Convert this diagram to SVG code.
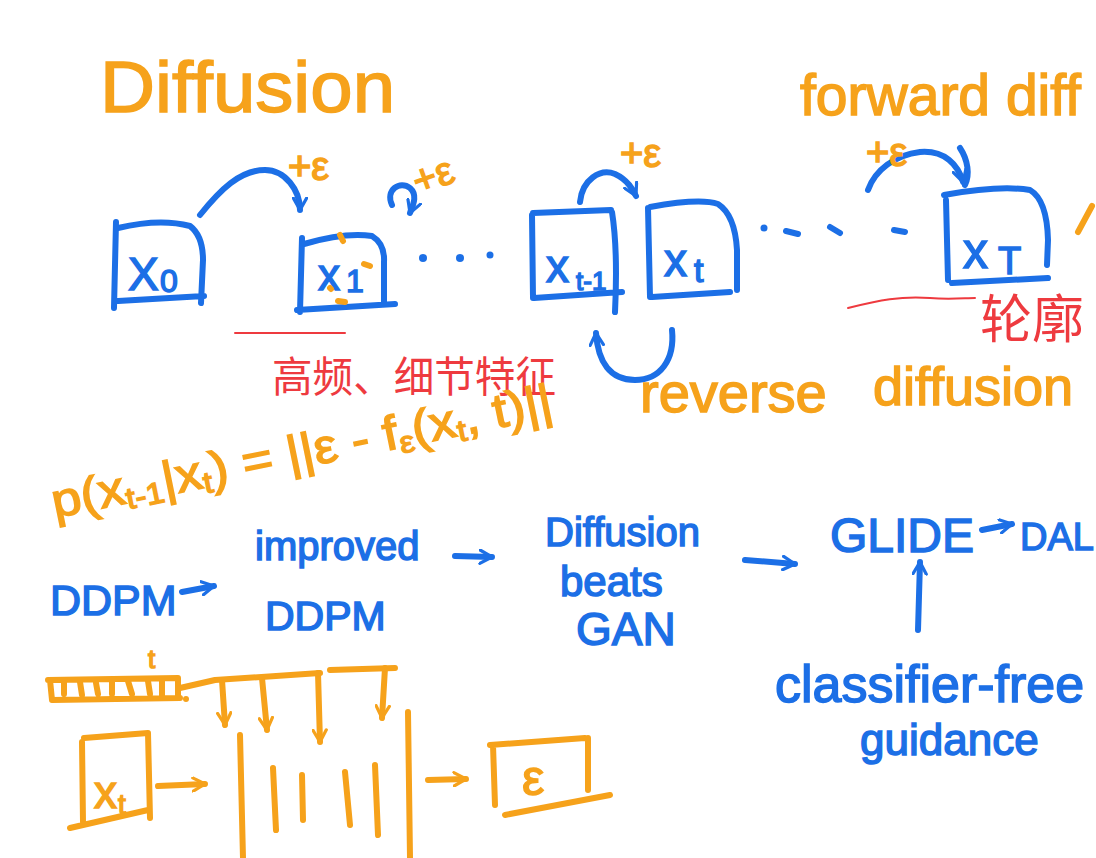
<svg xmlns="http://www.w3.org/2000/svg" width="1096" height="858" viewBox="0 0 1096 858">
<defs>
<style>
.o{fill:none;stroke:#F6A21B;stroke-width:6;stroke-linecap:round;stroke-linejoin:round}
.b{fill:none;stroke:#1C6FE6;stroke-width:6;stroke-linecap:round;stroke-linejoin:round}
.r{fill:none;stroke:#EE3A3F;stroke-width:2;stroke-linecap:round}
.to{fill:#F6A21B;stroke:#F6A21B;stroke-width:1.5;font-family:"Liberation Sans","DejaVu Sans",sans-serif}
.tb{fill:#1C6FE6;stroke:#1C6FE6;stroke-width:1.5;font-family:"Liberation Sans","DejaVu Sans",sans-serif}
.tr{fill:#EE3A3F;font-family:"Liberation Sans","Noto Sans CJK SC",sans-serif}
</style>
<marker id="hb" viewBox="0 0 12 12" refX="10" refY="6" markerWidth="16" markerHeight="16" markerUnits="userSpaceOnUse" orient="auto">
<path d="M1,1 L10,6 L1,11" fill="none" stroke="#1C6FE6" stroke-width="2.4" stroke-linecap="round" stroke-linejoin="round"/>
</marker>
<marker id="ho" viewBox="0 0 12 12" refX="10" refY="6" markerWidth="16" markerHeight="16" markerUnits="userSpaceOnUse" orient="auto">
<path d="M1,1 L10,6 L1,11" fill="none" stroke="#F6A21B" stroke-width="2.4" stroke-linecap="round" stroke-linejoin="round"/>
</marker>
</defs>
<rect width="1096" height="858" fill="#ffffff"/>

<g id="title">
<text class="to" x="100" y="112" font-size="72" textLength="295" lengthAdjust="spacingAndGlyphs">Diffusion</text>
</g>

<g id="box-x0">
<path class="b" d="M116,222 L114,308 M118,228 Q160,218 190,226 Q203,236 203,260 L201,303 M118,301 L204,296"/>
<text class="tb" x="128" y="290" font-size="46">X</text>
<text class="tb" x="160" y="292" font-size="32">0</text>
</g>

<g id="box-x1">
<path class="b" d="M302,238 L300,312 M304,244 Q345,232 372,236 Q385,244 384,262 L384,303 M297,310 L395,304"/>
<text class="tb" x="318" y="290" font-size="44">x</text>
<text class="tb" x="346" y="292" font-size="32">1</text>
<path class="o" stroke-width="4" d="M340,235 L343,241 M364,264 L370,266 M330,288 L331,289 M338,301 L345,302"/>
</g>

<g id="box-xt-1">
<path class="b" d="M532,215 L533,298 M533,213 L611,210 M612,212 Q618,250 615,312 M534,298 L622,292"/>
<text class="tb" x="546" y="282" font-size="46">x</text>
<text class="tb" x="576" y="290" font-size="26">t-1</text>
</g>

<g id="box-xt">
<path class="b" d="M648,208 L650,297 M650,207 Q700,198 718,204 Q735,215 737,250 L737,290 M652,297 L730,292"/>
<text class="tb" x="664" y="276" font-size="46">x</text>
<text class="tb" x="694" y="282" font-size="34">t</text>
</g>

<g id="box-xT">
<path class="b" d="M946,200 L948,280 M944,195 Q1000,185 1030,190 Q1047,200 1048,240 L1047,265 M952,283 L1048,278"/>
<text class="tb" x="963" y="268" font-size="50">x</text>
<text class="tb" x="998" y="274" font-size="38">T</text>
</g>

<g id="connectors">
<path class="b" marker-end="url(#hb)" d="M200,215 C220,190 240,170 265,170 C285,170 300,190 300,210"/>
<path class="b" marker-end="url(#hb)" d="M392,205 C385,190 400,180 410,188 C418,195 413,205 410,213"/>
<path class="b" marker-end="url(#hb)" d="M580,202 C582,180 600,168 615,174 C628,180 633,190 636,196"/>
<path class="b" marker-end="url(#hb)" d="M868,190 C875,170 895,155 920,152 C945,150 958,165 963,182"/>
<path class="b" d="M960,148 C968,160 970,175 965,185"/>
<path class="b" marker-end="url(#hb)" d="M672,330 C675,360 660,380 635,380 C610,380 598,362 596,333"/>
<circle cx="423" cy="258" r="4" fill="#1C6FE6"/>
<circle cx="460" cy="258" r="4" fill="#1C6FE6"/>
<circle cx="490" cy="255" r="3.5" fill="#1C6FE6"/>
<circle cx="764" cy="228" r="3.5" fill="#1C6FE6"/>
<path class="b" stroke-width="5" d="M786,231 L798,234 M830,227 L840,233 M894,230 L905,232"/>
<path class="b" marker-end="url(#hb)" d="M182,592 L214,586"/>
<path class="b" marker-end="url(#hb)" d="M455,556 L492,557"/>
<path class="b" marker-end="url(#hb)" d="M745,560 L795,564"/>
<path class="b" marker-end="url(#hb)" d="M982,530 L1012,524"/>
<path class="b" marker-end="url(#hb)" d="M918,630 L920,562"/>
<path class="o" marker-end="url(#ho)" d="M158,786 L205,784"/>
<path class="o" marker-end="url(#ho)" d="M428,780 L466,779"/>
<path class="o" marker-end="url(#ho)" d="M222,680 L225,725"/>
<path class="o" marker-end="url(#ho)" d="M262,678 L267,730"/>
<path class="o" marker-end="url(#ho)" d="M318,673 L320,742"/>
<path class="o" marker-end="url(#ho)" d="M385,668 L382,718"/>
</g>

<g id="eps-labels">
<text class="to" x="288" y="180" font-size="40">+ε</text>
<text class="to" x="412" y="190" font-size="40" transform="rotate(-20 430 175)">+ε</text>
<text class="to" x="620" y="167" font-size="40">+ε</text>
<text class="to" x="866" y="166" font-size="40">+ε</text>
</g>

<g id="forward-label">
<text class="to" x="800" y="115" font-size="57">forward diff</text>
<path class="o" d="M1078,232 L1092,206"/>
</g>

<g id="reverse-label">
<text class="to" x="640" y="412" font-size="56">reverse</text>
<text class="to" x="873" y="405" font-size="54">diffusion</text>
</g>

<g id="note-high-freq">
<path class="r" d="M235,333 L345,333"/>
<text class="tr" x="272" y="392" font-size="42" textLength="284" lengthAdjust="spacingAndGlyphs">高频、细节特征</text>
</g>

<g id="note-outline">
<path class="r" d="M848,308 C880,300 900,296 930,298 C950,300 965,298 975,298"/>
<text class="tr" x="980" y="338" font-size="52">轮廓</text>
</g>

<g id="formula">
<text class="to" x="55" y="518" font-size="48" transform="rotate(-11.5 55 518)" textLength="510" lengthAdjust="spacingAndGlyphs">p(x<tspan font-size="30" dy="6">t-1</tspan><tspan dy="-6">|x</tspan><tspan font-size="30" dy="6">t</tspan><tspan dy="-6">) = ||ε - f</tspan><tspan font-size="30" dy="6">ε</tspan><tspan dy="-6">(x</tspan><tspan font-size="30" dy="6">t</tspan><tspan dy="-6">, t)||</tspan></text>
</g>

<g id="ddpm">
<text class="tb" x="50" y="615" font-size="43">DDPM</text>
</g>

<g id="improved-ddpm">
<text class="tb" x="255" y="560" font-size="40">improved</text>
<text class="tb" x="265" y="630" font-size="41">DDPM</text>
</g>

<g id="diffusion-beats-gan">
<text class="tb" x="545" y="546" font-size="40">Diffusion</text>
<text class="tb" x="560" y="596" font-size="42">beats</text>
<text class="tb" x="576" y="645" font-size="46">GAN</text>
</g>

<g id="glide">
<text class="tb" x="830" y="552" font-size="48">GLIDE</text>
</g>

<g id="dall">
<text class="tb" x="1020" y="550" font-size="38">DAL</text>
</g>

<g id="cfg">
<text class="tb" x="775" y="702" font-size="52">classifier-free</text>
<text class="tb" x="860" y="755" font-size="44">guidance</text>
</g>

<g id="timestep-embedding">
<text class="to" x="148" y="668" font-size="26">t</text>
<path class="o" stroke-width="5" d="M48,680 L178,678 L178,697 M52,700 L180,698 M50,680 L52,700 M64,683 L64,694 M80,682 L82,695 M96,683 L98,694 M112,682 L112,694 M128,681 L132,694 M148,681 L150,694 M162,680 L162,696"/>
<circle cx="186" cy="699" r="3" fill="#F6A21B"/>
<path class="o" d="M180,688 L215,680 L320,673 M330,670 L395,668"/>
</g>

<g id="box-xt-input">
<path class="o" d="M82,742 L83,822 M84,738 L148,733 L150,818 M70,828 L148,810"/>
<text class="to" x="94" y="808" font-size="46">x</text>
<text class="to" x="118" y="814" font-size="28">t</text>
</g>

<g id="unet">
<path class="o" d="M240,735 L243,858 M408,712 L410,858 M273,768 L276,830 M302,775 L303,820 M345,772 L350,825 M375,765 L378,835"/>
</g>

<g id="box-eps-output">
<path class="o" d="M493,745 L495,805 M490,745 L585,738 M588,738 L588,790 M505,815 L610,795"/>
<text class="to" x="522" y="795" font-size="50">ε</text>
</g>
</svg>
